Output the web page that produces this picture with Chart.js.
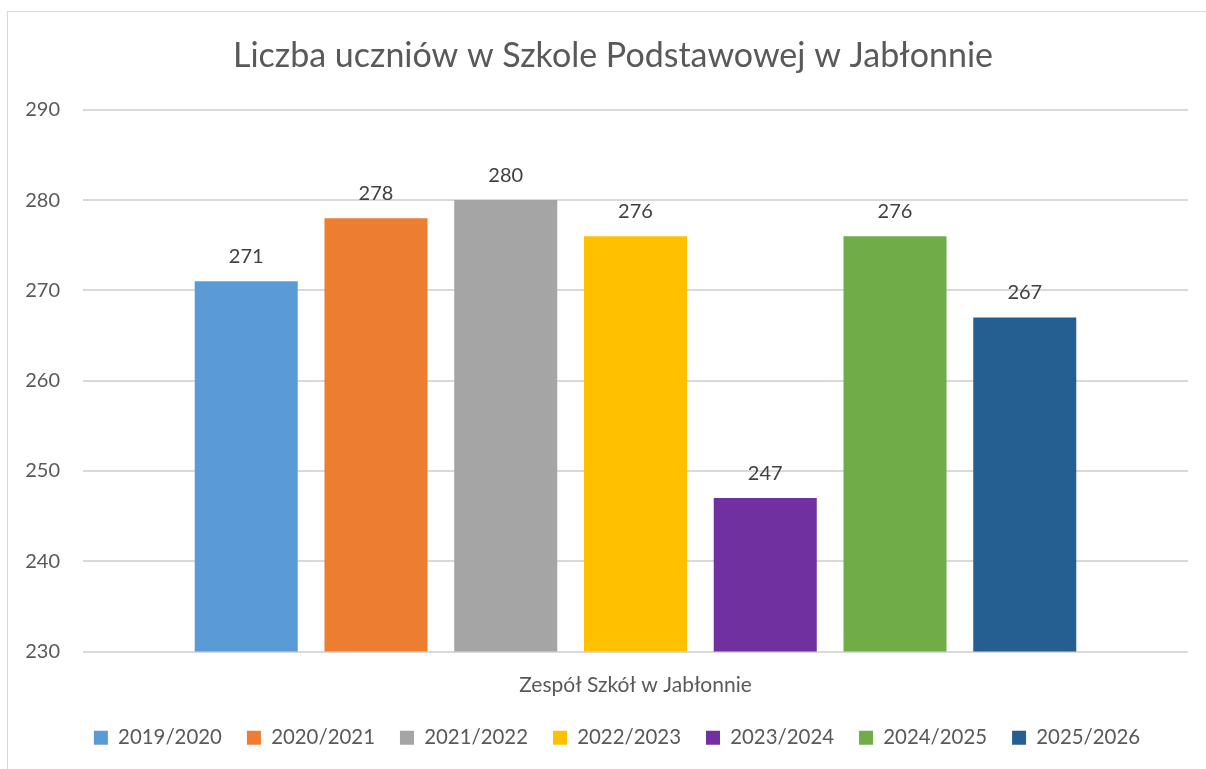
<!DOCTYPE html>
<html>
<head>
<meta charset="utf-8">
<script src="https://cdn.jsdelivr.net/npm/chart.js@4"></script>
<style>
  body { margin: 0; background: #fff; overflow: hidden; }
  #ramka { position: absolute; left: 7px; top: 11px; width: 1220px; height: 780px; border: 1px solid #d9d9d9; }
  #wykres { position: absolute; left: 0; top: 0; }
</style>
</head>
<body>
<div id="ramka"></div>
<canvas id="wykres" width="1206" height="769"></canvas>
<script>
const kategorie = ["Zespół Szkół w Jabłonnie"];
const lata = ["2019/2020", "2020/2021", "2021/2022", "2022/2023", "2023/2024", "2024/2025", "2025/2026"];
const liczbaUczniow = [271, 278, 280, 276, 247, 276, 267];
const kolory = ["#5B9BD5", "#ED7D31", "#A5A5A5", "#FFC000", "#7030A0", "#70AD47", "#255E91"];
const osY = { min: 230, max: 290, krok: 10 };

const czcionka = "Lato, 'Open Sans', sans-serif";

// Etykiety wartości nad słupkami
const etykietyWartosci = {
    id: "etykietyWartosci",
    afterDatasetsDraw(chart) {
        const ctx = chart.ctx;
        ctx.save();
        ctx.font = "20px " + czcionka;
        ctx.fillStyle = "#404040";
        ctx.textAlign = "center";
        ctx.textBaseline = "middle";
        chart.data.datasets.forEach((ds, i) => {
            chart.getDatasetMeta(i).data.forEach((bar, j) => {
                ctx.fillText(ds.data[j], bar.x, bar.y - 25);
            });
        });
        ctx.restore();
    }
};

// Tytuł i legenda lekko przesunięte w prawo, jak w oryginale
const przesuniecie = {
    id: "przesuniecie",
    afterLayout(chart) {
        if (chart.titleBlock) { chart.titleBlock.left += 19; chart.titleBlock.right += 19; }
        if (chart.legend) { chart.legend.left += 23; chart.legend.right += 23; }
    }
};

const zbiory = lata.map((rok, i) => ({
    label: rok,
    data: [liczbaUczniow[i]],
    backgroundColor: kolory[i],
    barPercentage: 0.794,
    categoryPercentage: 0.822
}));

new Chart(document.getElementById("wykres"), {
    type: "bar",
    data: { labels: kategorie, datasets: zbiory },
    options: {
        responsive: false,
        animation: false,
        layout: { padding: { left: 0, right: 18, top: 0, bottom: 11 } },
        plugins: {
            title: {
                display: true,
                text: "Liczba uczniów w Szkole Podstawowej w Jabłonnie",
                color: "#595959",
                font: { family: czcionka, size: 34, weight: "normal" },
                padding: { top: 36, bottom: 33 }
            },
            legend: {
                position: "bottom",
                labels: {
                    color: "#595959",
                    font: { family: czcionka, size: 20.4 },
                    boxWidth: 14,
                    boxHeight: 14,
                    padding: 25
                }
            },
            tooltip: { enabled: false }
        },
        scales: {
            x: {
                grid: { display: false },
                border: { display: false },
                ticks: { color: "#595959", font: { family: czcionka, size: 21 }, padding: 13 },
                afterFit(scale) { scale.height = 51; }
            },
            y: {
                min: osY.min,
                max: osY.max,
                ticks: { stepSize: osY.krok, color: "#595959", font: { family: czcionka, size: 20 }, padding: 23 },
                grid: { color: "#d9d9d9", lineWidth: 2, drawTicks: false },
                border: { display: false },
                afterFit(scale) { scale.width = 83; }
            }
        }
    },
    plugins: [etykietyWartosci, przesuniecie]
});
</script>
</body>
</html>
